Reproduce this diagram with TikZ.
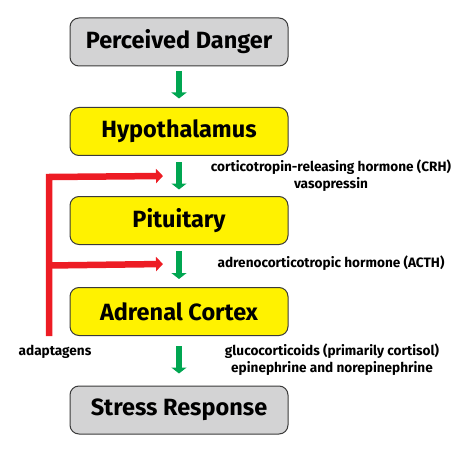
\documentclass[tikz,border=0pt]{standalone}
\usepackage{fontspec}
\setmainfont{Fira Sans}
\usetikzlibrary{arrows.meta}
\definecolor{boxgray}{HTML}{D3D3D4}
\definecolor{boxyellow}{HTML}{FFF200}
\definecolor{arrgreen}{HTML}{00A651}
\definecolor{arrred}{HTML}{ED1C24}
\definecolor{edgecol}{HTML}{3A3A3A}
\tikzset{
  box/.style={draw=edgecol, line width=1pt, rounded corners=9pt, minimum width=218pt, minimum height=48pt, inner sep=0pt, font=\fontsize{23.5}{26}\selectfont\bfseries},
  gbox/.style={box, fill=boxgray},
  ybox/.style={box, fill=boxyellow},
  garrow/.style={arrgreen, line width=6pt, -{Triangle[width=15pt,length=6pt]}},
  rarrow/.style={arrred, line width=6.5pt, -{Triangle[width=14pt,length=7pt]}},
  lbl/.style={font=\fontsize{13.6}{17}\selectfont\bfseries, align=center, inner sep=0pt}
}
\begin{document}
\begin{tikzpicture}[x=1pt,y=-1pt]
\useasboundingbox (0,0) rectangle (473,457);
\node[gbox] (pd) at (179,42) {Perceived Danger};
\node[ybox] (hy) at (179,131.5) {Hypothalamus};
\node[ybox] (pi) at (179,220.5) {Pituitary};
\node[ybox] (ad) at (179,311.5) {Adrenal Cortex};
\node[gbox] (sr) at (179,410) {Stress Response};
% green arrows
\coordinate (g1a) at (179,71); \coordinate (g1b) at (179,98.5);
\coordinate (g2a) at (179,162); \coordinate (g2b) at (179,189.5);
\coordinate (g3a) at (179,251); \coordinate (g3b) at (179,279);
\coordinate (g4a) at (179,346); \coordinate (g4b) at (179,373.5);
\draw[garrow] (g1a) -- (g1b);
\draw[garrow] (g2a) -- (g2b);
\draw[garrow] (g3a) -- (g3b);
\draw[garrow] (g4a) -- (g4b);
% red feedback
\coordinate (rb) at (49,336);
\coordinate (rc) at (49,177);
\coordinate (rt) at (163,176);
\coordinate (rm) at (49,265.5);
\coordinate (rmt) at (163,264);
\draw[rarrow] (rb) -- (rc) -- (rt);
\draw[rarrow] (rm) -- (rmt);
% labels
\node[lbl] (l1) at (331,175.5) {corticotropin-releasing hormone (CRH)\\vasopressin};
\node[lbl] (l2) at (331,263) {adrenocorticotropic hormone (ACTH)};
\node[lbl] (l3) at (332,360) {glucocorticoids (primarily cortisol)\\epinephrine and norepinephrine};
\node[lbl] (l4) at (55,352) {adaptagens};
\end{tikzpicture}
\end{document}
